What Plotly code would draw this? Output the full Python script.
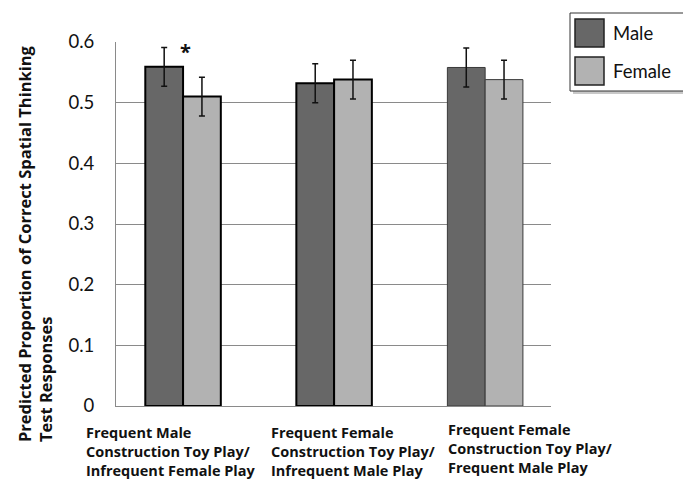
import plotly.graph_objects as go

categories = [
    "Frequent Male<br>Construction Toy Play/<br>Infrequent Female Play",
    "Frequent Female<br>Construction Toy Play/<br>Infrequent Male Play",
    "Frequent Female<br>Construction Toy Play/<br>Frequent Male Play",
]
male_values = [0.559, 0.532, 0.558]
male_err = [0.032, 0.032, 0.032]
female_values = [0.510, 0.538, 0.538]
female_err = [0.032, 0.032, 0.032]
series_names = ["Male", "Female"]
y_ticks = [0, 0.1, 0.2, 0.3, 0.4, 0.5, 0.6]
y_tick_labels = ["0", "0.1", "0.2", "0.3", "0.4", "0.5", "0.6"]
y_title = "Predicted Proportion of Correct Spatial Thinking<br>Test Responses"

MALE_C = "#676767"
FEMALE_C = "#b2b2b2"
FONT = "Lato"
BFONT = "Open Sans"

W, H = 683, 480
L, R, T, B = 116, 132, 42, 74
pw, ph = W - L - R, H - T - B


def px(x):
    return (x - L) / pw


def py(y):
    return (H - B - y) / ph


idx = list(range(len(categories)))
line_cols = ["#000000", "#000000", "#3a3a3a"]
line_w = [2, 2, 1]

fig = go.Figure()
for name, vals, errs, col in [
    (series_names[0], male_values, male_err, MALE_C),
    (series_names[1], female_values, female_err, FEMALE_C),
]:
    fig.add_trace(go.Bar(
        x=idx, y=vals, name=name,
        marker=dict(color=col, line=dict(color=line_cols, width=line_w)),
        error_y=dict(type="data", array=errs, visible=True,
                     color="#111111", thickness=1.5, width=3),
        showlegend=False,
    ))

annotations = []
# category labels, left-aligned
label_left_px = [84, 269, 446]
label_top_px = [421, 421, 418]
for i, (lab, lx, ly) in enumerate(zip(categories, label_left_px, label_top_px)):
    annotations.append(dict(
        x=px(lx), y=py(ly), xref="paper", yref="paper",
        xanchor="left", yanchor="top", align="left", showarrow=False,
        text="<b>" + lab + "</b>",
        font=dict(family=BFONT, size=14.5, color="#111111"),
    ))
# y title
annotations.append(dict(
    x=px(35), y=py(244), xref="paper", yref="paper",
    xanchor="center", yanchor="middle", textangle=-90, align="left",
    showarrow=False, text="<b>" + y_title + "</b>",
    font=dict(family=BFONT, size=16.5, color="#111111"),
))
# significance marker
annotations.append(dict(
    x=0, y=0.585, xref="x", yref="y", xshift=2, showarrow=False,
    text="<b>*</b>", font=dict(family=BFONT, size=20, color="#111111"),
))

shapes = []
# legend shadow + box
shapes.append(dict(type="rect", xref="paper", yref="paper",
                   x0=px(573), x1=px(700), y0=py(94), y1=py(16),
                   fillcolor="#c8c8c8", line=dict(width=0), layer="above"))
shapes.append(dict(type="rect", xref="paper", yref="paper",
                   x0=px(570), x1=px(700), y0=py(91), y1=py(13),
                   fillcolor="white", line=dict(color="#333333", width=1), layer="above"))
for name, col, y0 in [(series_names[0], MALE_C, 19), (series_names[1], FEMALE_C, 57)]:
    shapes.append(dict(type="rect", xref="paper", yref="paper",
                       x0=px(575), x1=px(604), y0=py(y0 + 28), y1=py(y0),
                       fillcolor=col, line=dict(color="#222222", width=1.5), layer="above"))
    annotations.append(dict(
        x=px(611), y=py(y0 + 14), xref="paper", yref="paper",
        xanchor="left", yanchor="middle", showarrow=False, text=name,
        font=dict(family=FONT, size=18.5, color="#111111"),
    ))

fig.update_layout(
    width=W, height=H,
    margin=dict(l=L, r=R, t=T, b=B, pad=0),
    paper_bgcolor="white", plot_bgcolor="white",
    barmode="group", bargap=0.5, bargroupgap=0,
    annotations=annotations, shapes=shapes,
    font=dict(family=FONT, color="#111111"),
)
fig.update_xaxes(
    range=[-0.444, 2.436], showticklabels=False, showgrid=False,
    zeroline=False, showline=True, linecolor="#8a8a8a", linewidth=1,
    fixedrange=True,
)
fig.update_yaxes(
    range=[0, 0.6], tickvals=y_ticks, ticktext=y_tick_labels,
    showgrid=True, gridcolor="#8a8a8a", gridwidth=1,
    zeroline=False, showline=True, linecolor="#8a8a8a", linewidth=1,
    ticks="", ticklabelstandoff=17,
    tickfont=dict(family=FONT, size=18.5, color="#111111"),
    fixedrange=True,
)

fig.write_html(
    "out.html",
    config={"displayModeBar": False},
    post_script="document.body.style.margin='0';document.body.style.overflow='hidden';",
)
